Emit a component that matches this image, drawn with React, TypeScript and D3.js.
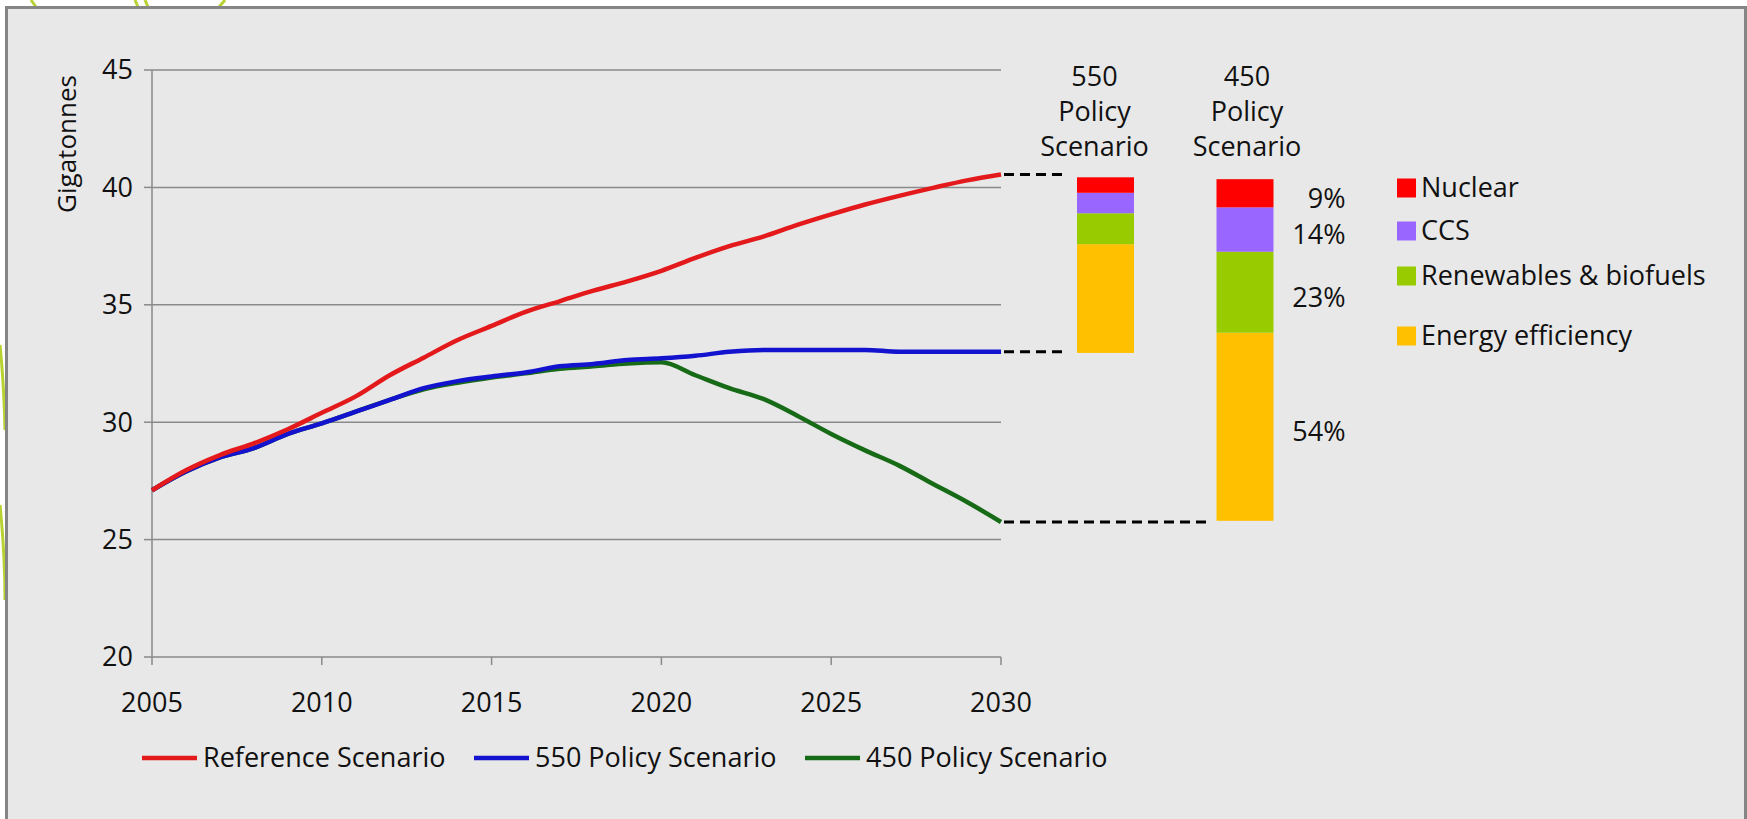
import React from "react";
import * as d3 from "d3";

const years = [2005, 2006, 2007, 2008, 2009, 2010, 2011, 2012, 2013, 2014, 2015, 2016, 2017, 2018, 2019, 2020, 2021, 2022, 2023, 2024, 2025, 2026, 2027, 2028, 2029, 2030];
const referenceScenario = [27.1, 27.95, 28.6, 29.1, 29.7, 30.4, 31.1, 32.0, 32.75, 33.5, 34.1, 34.7, 35.15, 35.6, 36.0, 36.45, 37.0, 37.5, 37.9, 38.4, 38.85, 39.27, 39.64, 39.98, 40.3, 40.55];
const policy550 = [27.1, 27.9, 28.5, 28.9, 29.5, 29.95, 30.45, 30.95, 31.45, 31.75, 31.95, 32.12, 32.38, 32.48, 32.65, 32.72, 32.83, 33.0, 33.08, 33.08, 33.08, 33.08, 33.0, 33.0, 33.0, 33.0];
const policy450 = [27.1, 27.9, 28.5, 28.9, 29.5, 29.95, 30.45, 30.95, 31.4, 31.68, 31.9, 32.08, 32.28, 32.38, 32.5, 32.55, 32.0, 31.45, 30.99, 30.28, 29.5, 28.8, 28.15, 27.37, 26.6, 25.75];

const yTicks = [20, 25, 30, 35, 40, 45];
const xTicks = [2005, 2010, 2015, 2020, 2025, 2030];

const lineSeries = ["Reference Scenario", "550 Policy Scenario", "450 Policy Scenario"];
const lineColors = ["#e3191b", "#1212cf", "#176b17"];

const barScenarios = ["550", "450"];
const barTitles = [["550", "Policy", "Scenario"], ["450", "Policy", "Scenario"]];
const barBases = [32.95, 25.8];
const wedgeNames = ["Energy efficiency", "Renewables & biofuels", "CCS", "Nuclear"];
const wedgeColors = ["#ffc000", "#99cc00", "#9966ff", "#ff0000"];
const wedges550 = [4.63, 1.32, 0.87, 0.66];
const wedges450 = [8.01, 3.45, 1.89, 1.2];
const wedgeLabels450 = ["54%", "23%", "14%", "9%"];
const legendOrder = ["Nuclear", "CCS", "Renewables & biofuels", "Energy efficiency"];

const FONT = "'Open Sans', sans-serif";
const TXT = "#111111";
const GRID = "#8a8a8a";
const FS = 27;

export default function App() {
  const W = 1747, H = 819;
  const x = d3.scaleLinear().domain([2005, 2030]).range([152, 1001]);
  const y = d3.scaleLinear().domain([20, 45]).range([657, 70]);
  const bx = d3.scalePoint<string>().domain(barScenarios).range([1105.5, 1245]);
  const barW = 57;

  const series = [referenceScenario, policy550, policy450];
  const line = d3
    .line<number>()
    .x((_, i) => x(years[i]))
    .y((d) => y(d))
    .curve(d3.curveMonotoneX);

  const drawOrder = [2, 1, 0];
  const lastYear = years[years.length - 1];

  const barData = [wedges550, wedges450];
  const stacks = barData.map((vals, bi) => {
    let cum = barBases[bi];
    return vals.map((v, k) => {
      const s = { y0: cum, y1: cum + v, color: wedgeColors[k], name: wedgeNames[k] };
      cum += v;
      return s;
    });
  });

  const dashEnds = [
    { v: referenceScenario[referenceScenario.length - 1], x2: bx("550")! - barW / 2 - 12 },
    { v: policy550[policy550.length - 1], x2: bx("550")! - barW / 2 - 12 },
    { v: policy450[policy450.length - 1], x2: bx("450")! - barW / 2 - 6 },
  ];

  const legendX = [142, 474, 805];
  const legendY = 758;
  const rightLegendY = [188, 231, 276, 336];

  return (
    <div style={{ position: "absolute", left: 0, top: 0 }}>
      <svg width={W} height={H} style={{ display: "block" }}>
        <rect x={0} y={0} width={W} height={H} fill="#ffffff" />
        <g stroke="#b6d331" strokeWidth={3} fill="none">
          <path d="M31,0 L36,7" />
          <path d="M135,0 L138,7" />
          <path d="M145,0 L148,7" />
          <path d="M219,7 L225,0" />
          <path d="M0,345 Q4,385 5,430" />
          <path d="M0,505 Q5,555 5,600" />
        </g>
        <rect x={6.5} y={7.5} width={1739} height={840} fill="#e8e8e8" stroke="#858585" strokeWidth={3} />

        {yTicks.filter((t) => t > 20).map((t) => (
          <line key={"g" + t} x1={x(2005)} x2={x(2030)} y1={y(t)} y2={y(t)} stroke={GRID} strokeWidth={1.5} />
        ))}
        <line x1={x(2005)} x2={x(2005)} y1={y(45)} y2={y(20)} stroke={GRID} strokeWidth={1.5} />
        <line x1={x(2005)} x2={x(2030)} y1={y(20)} y2={y(20)} stroke={GRID} strokeWidth={1.5} />
        {yTicks.map((t) => (
          <g key={"yt" + t}>
            <line x1={x(2005) - 8} x2={x(2005)} y1={y(t)} y2={y(t)} stroke={GRID} strokeWidth={1.5} />
            <text x={133} y={y(t)} dy="0.35em" textAnchor="end" fontFamily={FONT} fontSize={FS} fill={TXT}>
              {t}
            </text>
          </g>
        ))}
        {xTicks.map((t) => (
          <g key={"xt" + t}>
            <line x1={x(t)} x2={x(t)} y1={y(20)} y2={y(20) + 8} stroke={GRID} strokeWidth={1.5} />
            <text x={x(t)} y={703} dy="0.35em" textAnchor="middle" fontFamily={FONT} fontSize={FS} fill={TXT}>
              {t}
            </text>
          </g>
        ))}
        <text
          transform={`translate(67,144) rotate(-90)`}
          textAnchor="middle"
          dy="0.35em"
          fontFamily={FONT}
          fontSize={26}
          fill={TXT}
        >
          Gigatonnes
        </text>

        {dashEnds.map((d, i) => (
          <line
            key={"d" + i}
            x1={x(lastYear) + 3}
            x2={d.x2}
            y1={y(d.v)}
            y2={y(d.v)}
            stroke="#000"
            strokeWidth={3}
            strokeDasharray="10,6"
          />
        ))}

        {drawOrder.map((si) => (
          <path key={"l" + si} d={line(series[si]) || ""} fill="none" stroke={lineColors[si]} strokeWidth={4.5} strokeLinejoin="round" />
        ))}

        {stacks.map((segs, bi) => (
          <g key={"b" + bi}>
            {segs.map((s, k) => (
              <rect
                key={k}
                x={bx(barScenarios[bi])! - barW / 2}
                y={y(s.y1)}
                width={barW}
                height={y(s.y0) - y(s.y1)}
                fill={s.color}
              />
            ))}
            {barTitles[bi].map((t, li) => (
              <text
                key={"t" + li}
                x={bx(barScenarios[bi])! + (bi === 0 ? -11 : 2)}
                y={77 + li * 35}
                dy="0.35em"
                textAnchor="middle"
                fontFamily={FONT}
                fontSize={FS}
                fill={TXT}
              >
                {t}
              </text>
            ))}
          </g>
        ))}
        {stacks[1].map((s, k) => (
          <text
            key={"p" + k}
            x={bx("450")! + barW / 2 + 72}
            y={(y(s.y0) + y(s.y1)) / 2 + 5}
            dy="0.35em"
            textAnchor="end"
            fontFamily={FONT}
            fontSize={FS}
            fill={TXT}
          >
            {wedgeLabels450[k]}
          </text>
        ))}

        {legendOrder.map((name, i) => {
          const ci = wedgeNames.indexOf(name);
          return (
            <g key={"rl" + i}>
              <rect x={1397} y={rightLegendY[i] - 9.5} width={19} height={19} fill={wedgeColors[ci]} />
              <text x={1421} y={rightLegendY[i]} dy="0.35em" fontFamily={FONT} fontSize={FS} fill={TXT}>
                {name}
              </text>
            </g>
          );
        })}

        {lineSeries.map((name, i) => (
          <g key={"bl" + i}>
            <line x1={legendX[i]} x2={legendX[i] + 55} y1={legendY} y2={legendY} stroke={lineColors[i]} strokeWidth={4.5} />
            <text x={legendX[i] + 61} y={legendY} dy="0.35em" fontFamily={FONT} fontSize={FS} fill={TXT}>
              {name}
            </text>
          </g>
        ))}
      </svg>
    </div>
  );
}
